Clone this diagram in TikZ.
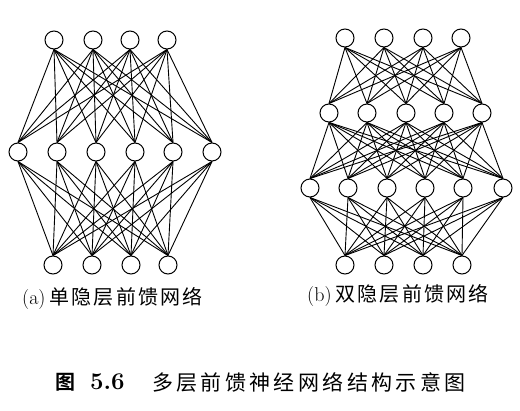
\documentclass[tikz,border=0pt]{standalone}
\usepackage{fontspec}
\newfontfamily\cjk[LetterSpace=11]{Noto Sans CJK SC}
\newfontfamily\cjkcap[LetterSpace=16]{Noto Sans CJK SC}
\newfontfamily\cjkbold{Noto Sans CJK SC Bold}
\begin{document}
\begin{tikzpicture}[x=1pt,y=-1pt,
  neuron/.style={circle,draw,line width=1pt,minimum size=18pt,inner sep=0pt,fill=white},
  link/.style={line width=0.9pt},
  sublabel/.style={font=\fontsize{20}{20}\selectfont,inner sep=0pt,anchor=west},
  caption/.style={font=\fontsize{24}{24}\selectfont,inner sep=0pt,anchor=west}]
\useasboundingbox (0,0) rectangle (520,411);
% ---------- (a) ----------
\foreach \x [count=\i] in {54,93,130,167} \node[neuron] (at\i) at (\x,40) {};
\foreach \x [count=\i] in {18,57,96,135,173,212} \node[neuron] (am\i) at (\x,152) {};
\foreach \x [count=\i] in {53,92,131,168} \node[neuron] (ab\i) at (\x,265) {};
\foreach \i in {1,...,4} \foreach \j in {1,...,6} \draw[link] (at\i.south) -- (am\j.north);
\foreach \i in {1,...,6} \foreach \j in {1,...,4} \draw[link] (am\i.south) -- (ab\j.north);
\node[sublabel] (la) at (22,298) {(a)\hspace{4pt}{\cjk 单隐层前馈网络}};
% ---------- (b) ----------
\foreach \x [count=\i] in {345,384,423,461} \node[neuron] (bt\i) at (\x,38) {};
\foreach \x [count=\i] in {329,367,406,444,482} \node[neuron] (bh\i) at (\x,113) {};
\foreach \x [count=\i] in {310,348,387,425,463,503} \node[neuron] (bm\i) at (\x,188) {};
\foreach \x [count=\i] in {345,384,423,462} \node[neuron] (bb\i) at (\x,265) {};
\foreach \i in {1,...,4} \foreach \j in {1,...,5} \draw[link] (bt\i.south) -- (bh\j.north);
\foreach \i in {1,...,5} \foreach \j in {1,...,6} \draw[link] (bh\i.south) -- (bm\j.north);
\foreach \i in {1,...,6} \foreach \j in {1,...,4} \draw[link] (bm\i.south) -- (bb\j.north);
\node[sublabel] (lb) at (307,295) {(b)\hspace{4pt}{\cjk 双隐层前馈网络}};
% ---------- caption ----------
\node[caption] (cap1) at (55,382) {{\fontsize{20}{20}\selectfont\cjkbold 图}\hspace{15pt}\textbf{5.6}};
\node[caption] (cap2) at (152,382) {\fontsize{21}{21}\selectfont\cjkcap 多层前馈神经网络结构示意图};
\end{tikzpicture}
\end{document}
